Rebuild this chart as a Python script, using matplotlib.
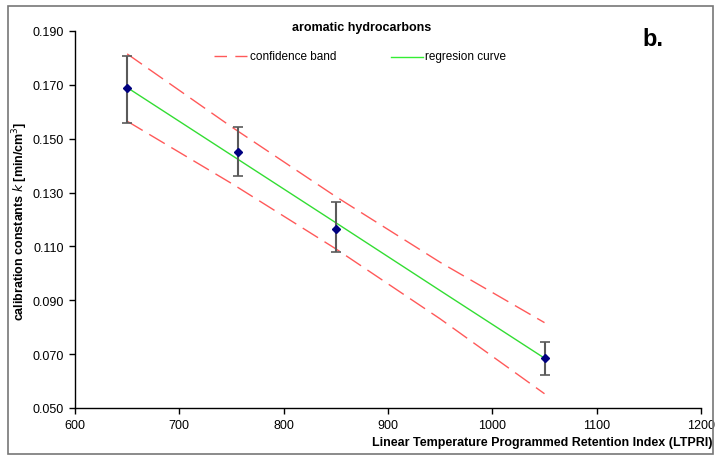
import matplotlib
matplotlib.use("Agg")
import matplotlib.pyplot as plt
from matplotlib.patches import Rectangle
from matplotlib.lines import Line2D

plt.rcParams['font.family'] = ['Liberation Sans', 'DejaVu Sans']

# data
ltpri = [650, 756, 850, 1050]
k_vals = [0.1688, 0.1451, 0.1165, 0.0686]
err_low = [0.0130, 0.0089, 0.0086, 0.0063]
err_high = [0.0119, 0.0092, 0.0100, 0.0059]

band_x = [650, 750, 850, 950, 1050]
reg_y = [0.1690, 0.1439, 0.1188, 0.0936, 0.0685]
band_upper = [0.1815, 0.1544, 0.1285, 0.1041, 0.0817]
band_lower = [0.1565, 0.1334, 0.1091, 0.0831, 0.0553]

xticks = [600, 700, 800, 900, 1000, 1100, 1200]
yticks = [0.050, 0.070, 0.090, 0.110, 0.130, 0.150, 0.170, 0.190]

fig = plt.figure(figsize=(7.15, 4.56), dpi=100)
ax = fig.add_axes([75/715, 1-409/456, (701-75)/715, (409-32)/456])

ax.plot(band_x, band_upper, color='#ff3030', lw=1.0, dashes=(13, 5.5), alpha=0.8)
ax.plot(band_x, band_lower, color='#ff3030', lw=1.0, dashes=(13, 5.5), alpha=0.8)
ax.plot(band_x, reg_y, color='#33dd33', lw=1.0)
ax.errorbar(ltpri, k_vals, yerr=[err_low, err_high], fmt='D', color='#000080',
            ms=4, ecolor='#5a5a5a', elinewidth=1.5, capsize=3.5, capthick=1.2, zorder=5)

ax.set_xlim(600, 1200)
ax.set_ylim(0.050, 0.190)
ax.set_xticks(xticks)
ax.set_yticks(yticks)
ax.set_yticklabels([f"{v:.3f}" for v in yticks])
ax.tick_params(direction='out', length=4, labelsize=9, width=1, pad=4)
for s in ['top', 'right']:
    ax.spines[s].set_visible(False)
for s in ['left', 'bottom']:
    ax.spines[s].set_linewidth(1.0)

fig.text(362/715, 1-28/456, 'aromatic hydrocarbons', ha='center', va='center',
         fontsize=9, fontweight='bold')
fig.text(653/715, 1-40/456, 'b.', ha='center', va='center', fontsize=17, fontweight='bold')

fig.text(712/715, 1-443/456, 'Linear Temperature Programmed Retention Index (LTPRI)',
         ha='right', va='center', fontsize=9, fontweight='bold')
fig.text(20/715, 1-221/456, r'calibration constants $\mathit{k}$ [min/cm$^3$]',
         ha='center', va='center', rotation=90, fontsize=9, fontweight='bold')

# legend (manual lines)
fig.add_artist(Line2D([214/715, 247/715], [1-57/456, 1-57/456], color='#ff3030',
                      lw=1.0, dashes=(9, 6), alpha=0.8))
fig.text(250/715, 1-57/456, 'confidence band', ha='left', va='center', fontsize=8.5)
fig.add_artist(Line2D([391/715, 423/715], [1-58/456, 1-58/456], color='#33ee33', lw=1.0))
fig.text(425/715, 1-57/456, 'regresion curve', ha='left', va='center', fontsize=8.5)

fig.add_artist(Rectangle((8/715, 1/456), 705/715, 448/456, transform=fig.transFigure,
                         fill=False, edgecolor='#777777', lw=1.2))

fig.savefig('out.png', dpi=100)
